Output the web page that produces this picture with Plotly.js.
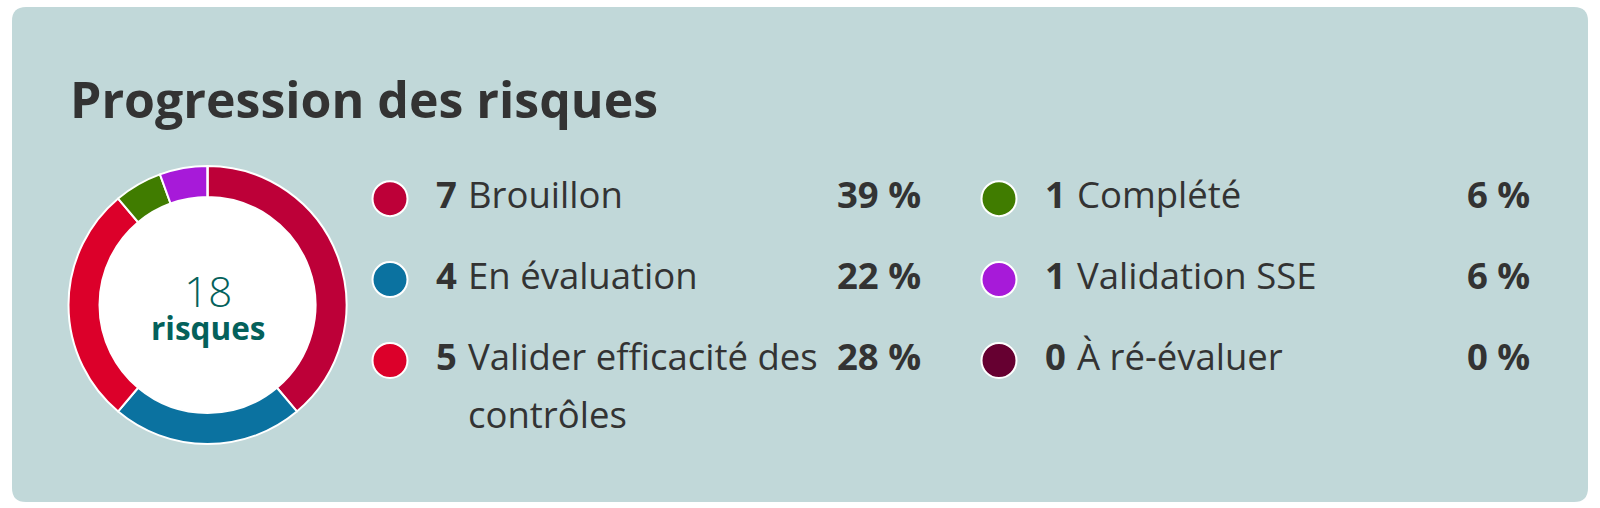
<!DOCTYPE html>
<html>
<head>
<meta charset="utf-8">
<script src="https://cdn.plot.ly/plotly-3.0.1.min.js"></script>
<style>
html,body{margin:0;padding:0;background:#ffffff;}
#chart{width:1600px;height:508px;}
</style>
</head>
<body>
<div id="chart"></div>
<script>
// ---- data ----
const categories = ["Brouillon", "En évaluation", "Valider efficacité des contrôles", "Complété", "Validation SSE", "À ré-évaluer"];
const counts = [7, 4, 5, 1, 1, 0];
const colors = ["#bd0038", "#0b72a0", "#dc002a", "#407c00", "#a71ad9", "#660031"];
const chartTitle = "Progression des risques";
const centerUnit = "risques";

// ---- layout constants ----
const W = 1600, H = 508;
const FONT = "Open Sans, Noto Sans, sans-serif";
const TEXT = "#333333";
const TEAL = "#04615b";
const CARD = "#c1d8d9";
const donut = {cx: 207.5, cy: 305, r: 139, rin: 108};
const legend = {col0: 390, colStep: 609, row0: 198.7, rowStep: 80.9, countDx: 45, labelDx: 77, pctDx: 533, fs: 36.5, lineStep: 58.3, perCol: 3};
const ASC = 0.388; // baseline -> box middle factor for Open Sans

const total = counts.reduce((a, b) => a + b, 0);
const pcts = counts.map(c => Math.round(c / total * 100));

// wrap helper using canvas text measurement
const cvs = document.createElement("canvas").getContext("2d");
function wrap(text, maxW, fs) {
  cvs.font = fs + "px 'Open Sans'";
  const words = text.split(" ");
  const lines = [];
  let cur = "";
  words.forEach(w => {
    const t = cur ? cur + " " + w : w;
    if (cvs.measureText(t).width > maxW && cur) { lines.push(cur); cur = w; }
    else cur = t;
  });
  if (cur) lines.push(cur);
  return lines;
}

const annotations = [];
// title
annotations.push({x: 68, y: 118 - ASC * 50, xref: "x", yref: "y", xanchor: "left", yanchor: "middle",
  text: "<b>" + chartTitle + "</b>", showarrow: false, font: {family: FONT, size: 50, color: TEXT}});
// centre (single text block, two lines)
annotations.push({x: donut.cx, y: 305, xref: "x", yref: "y", xanchor: "center", yanchor: "middle",
  text: "<span style='font-size:42px;font-weight:300'>" + total + "</span><br><span style='font-size:31.5px'><b>" + centerUnit + "</b></span>",
  showarrow: false, font: {family: FONT, size: 25.5, color: TEAL}});

const mx = [], my = [];
categories.forEach((cat, i) => {
  const col = Math.floor(i / legend.perCol), row = i % legend.perCol;
  const cx = legend.col0 + col * legend.colStep;
  const cy = legend.row0 + row * legend.rowStep;
  mx.push(cx); my.push(cy);
  const base = cy + 9.6;
  const mid = base - ASC * legend.fs;
  annotations.push({x: cx + legend.countDx - 1, y: mid, xref: "x", yref: "y", xanchor: "left", yanchor: "middle",
    text: "<b>" + counts[i] + "</b>", showarrow: false, font: {family: FONT, size: legend.fs, color: TEXT}});
  const lines = wrap(cat, 385, legend.fs);
  lines.forEach((ln, k) => {
    annotations.push({x: cx + legend.labelDx - 1, y: mid + k * legend.lineStep, xref: "x", yref: "y", xanchor: "left", yanchor: "middle",
      text: ln, showarrow: false, font: {family: FONT, size: legend.fs, color: TEXT}});
  });
  annotations.push({x: cx + legend.pctDx, y: mid, xref: "x", yref: "y", xanchor: "right", yanchor: "middle",
    text: "<b>" + pcts[i] + " %</b>", showarrow: false, font: {family: FONT, size: legend.fs, color: TEXT}});
});

const pie = {
  type: "pie", values: counts, labels: categories, sort: false, direction: "clockwise", rotation: 0,
  hole: donut.rin / donut.r, textinfo: "none", hoverinfo: "skip",
  marker: {colors: colors, line: {color: "#ffffff", width: 2}},
  domain: {x: [(donut.cx - donut.r) / W, (donut.cx + donut.r) / W], y: [(H - donut.cy - donut.r) / H, (H - donut.cy + donut.r) / H]},
  showlegend: false
};
const dots = {
  type: "scatter", mode: "markers", x: mx, y: my, hoverinfo: "skip", showlegend: false,
  marker: {size: 35, color: colors, line: {color: "#ffffff", width: 2}}
};

const R = 14, L = 12, T = 7, Rt = 1588, B = 502;
const cardPath = `M ${L + R} ${T} L ${Rt - R} ${T} Q ${Rt} ${T} ${Rt} ${T + R} L ${Rt} ${B - R} Q ${Rt} ${B} ${Rt - R} ${B} L ${L + R} ${B} Q ${L} ${B} ${L} ${B - R} L ${L} ${T + R} Q ${L} ${T} ${L + R} ${T} Z`;

const layout = {
  width: W, height: H, margin: {l: 0, r: 0, t: 0, b: 0, pad: 0},
  paper_bgcolor: "#ffffff", plot_bgcolor: "rgba(0,0,0,0)",
  xaxis: {range: [0, W], visible: false, fixedrange: true},
  yaxis: {range: [H, 0], visible: false, fixedrange: true},
  showlegend: false,
  shapes: [
    {type: "path", path: cardPath, xref: "x", yref: "y", fillcolor: CARD, line: {width: 0}, layer: "below"},
    {type: "circle", xref: "x", yref: "y", x0: donut.cx - donut.rin - 1, x1: donut.cx + donut.rin + 1,
      y0: donut.cy - donut.rin - 1, y1: donut.cy + donut.rin + 1, fillcolor: "#ffffff", line: {width: 0}, layer: "below"}
  ],
  annotations: annotations
};

Plotly.newPlot("chart", [dots, pie], layout, {staticPlot: true, displayModeBar: false});
</script>
</body>
</html>
